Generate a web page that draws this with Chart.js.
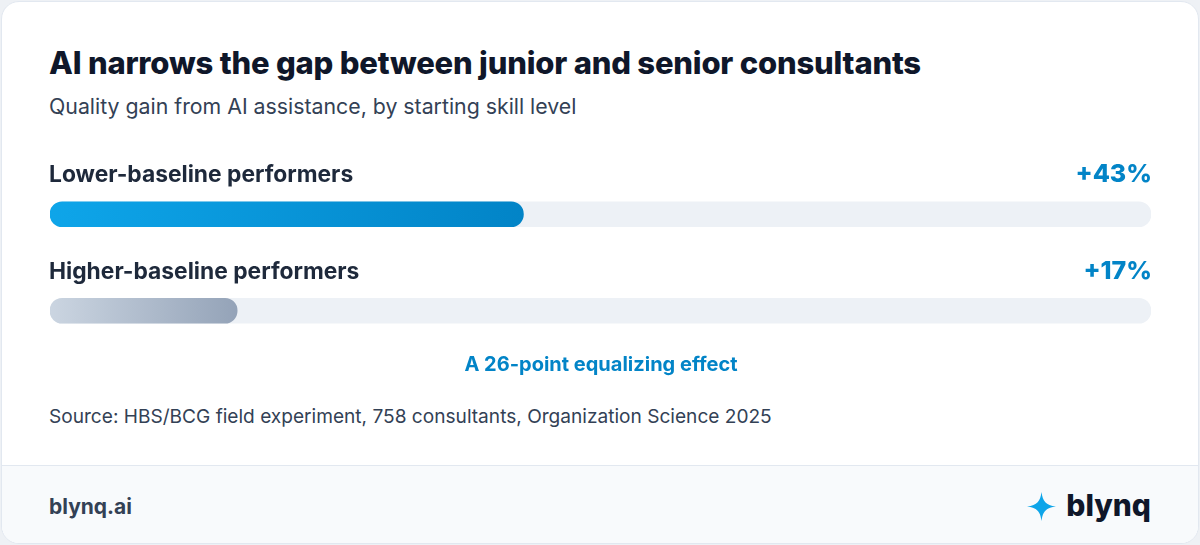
<!DOCTYPE html>
<html>
<head>
<meta charset="utf-8">
<script src="https://cdn.jsdelivr.net/npm/chart.js@4.4.1/dist/chart.umd.min.js"></script>
<style>
  html, body { margin: 0; padding: 0; }
  body {
    width: 1200px; height: 545px; background: #eef1f5;
    font-family: 'Inter', 'Noto Sans', sans-serif; position: relative; overflow: hidden;
  }
  .card {
    position: absolute; left: 1px; top: 1px; width: 1196px; height: 541px;
    background: #fff; border: 1px solid #e2e8f0; border-radius: 18px; overflow: hidden;
  }
  .title {
    position: absolute; left: 47px; top: 44.5px; margin: 0; white-space: nowrap;
    font-size: 31px; line-height: 1; font-weight: 800; color: #0f172a; letter-spacing: -0.2px;
  }
  .sub {
    position: absolute; left: 47px; top: 93.5px; margin: 0; white-space: nowrap;
    font-size: 21.3px; line-height: 1; color: #334155;
  }
  .wrap { position: absolute; left: 46px; top: 149px; width: 1103px; height: 208px; }
  .note {
    position: absolute; left: 0; width: 1198px; top: 352px; text-align: center;
    font-size: 20px; line-height: 1; font-weight: 700; color: #0284c7;
  }
  .src {
    position: absolute; left: 47px; top: 405px; white-space: nowrap;
    font-size: 19.1px; line-height: 1; color: #334155;
  }
  .foot {
    position: absolute; left: 0; right: 0; top: 463px; bottom: 0;
    background: #f8fafc; border-top: 1px solid #e2e8f0;
  }
  .site {
    position: absolute; left: 47px; top: 30px;
    font-size: 21px; line-height: 1; font-weight: 700; color: #334155;
  }
  .brand {
    position: absolute; right: 47px; top: 24px;
    font-size: 30px; line-height: 1; font-weight: 800; color: #0f172a;
  }
  .star { position: absolute; left: 1025px; top: 26px; }
</style>
</head>
<body>
<div class="card">
  <h1 class="title">AI narrows the gap between junior and senior consultants</h1>
  <p class="sub">Quality gain from AI assistance, by starting skill level</p>
  <div class="wrap"><canvas id="grafGap"></canvas></div>
  <div class="note">A 26-point equalizing effect</div>
  <div class="src">Source: HBS/BCG field experiment, 758 consultants, Organization Science 2025</div>
  <div class="foot">
    <div class="site">blynq.ai</div>
    <svg class="star" width="29" height="29" viewBox="0 0 28 28"><path d="M14 0 C15.2 9 18 12.8 28 14 C18 15.2 15.2 19 14 28 C12.8 19 10 15.2 0 14 C10 12.8 12.8 9 14 0 Z" fill="#0ea5e9"/></svg>
    <div class="brand">blynq</div>
  </div>
</div>
<script>
(function () {
    'use strict';

    // ── Dados ──
    const grupos  = ['Lower-baseline performers', 'Higher-baseline performers'];
    const ganhos  = [43, 17];
    const rotulos = ['+43%', '+17%'];
    const trilha  = [100, 100];

    // cores: [início, fim] do gradiente por barra
    const CORES = [['#0ea5e9', '#0284c7'], ['#cbd5e1', '#94a3b8']];
    const TRILHA = '#edf1f6';
    const TEXTO  = '#1e293b';
    const AZUL   = '#0284c7';

    function gradiente(c) {
        const chart = c.chart;
        const area = chart.chartArea;
        if (!area) return CORES[c.dataIndex][1];
        const x1 = chart.scales.x.getPixelForValue(c.raw);
        const g = chart.ctx.createLinearGradient(area.left, 0, x1, 0);
        g.addColorStop(0, CORES[c.dataIndex][0]);
        g.addColorStop(1, CORES[c.dataIndex][1]);
        return g;
    }

    // rótulos acima das barras + valor à direita
    const rotulosPlugin = {
        id: 'rotulos',
        afterDatasetsDraw(chart) {
            const { ctx, chartArea } = chart;
            const meta = chart.getDatasetMeta(1);
            ctx.save();
            ctx.textBaseline = 'alphabetic';
            meta.data.forEach((bar, i) => {
                const y = bar.y - 32;
                ctx.font = "700 22.8px 'Inter', sans-serif";
                ctx.fillStyle = TEXTO;
                ctx.textAlign = 'left';
                ctx.fillText(grupos[i], chartArea.left - 1, y);
                ctx.font = "800 25px 'Inter', sans-serif";
                ctx.fillStyle = AZUL;
                ctx.textAlign = 'right';
                ctx.fillText(rotulos[i], chartArea.right + 1, y);
            });
            ctx.restore();
        }
    };

    new Chart(document.getElementById('grafGap'), {
        type: 'bar',
        data: {
            labels: grupos,
            datasets: [
                {
                    data: trilha,
                    backgroundColor: TRILHA,
                    borderRadius: 13,
                    borderSkipped: false,
                    barThickness: 25,
                    grouped: false,
                    order: 2
                },
                {
                    data: ganhos,
                    backgroundColor: gradiente,
                    borderRadius: 13,
                    borderSkipped: false,
                    barThickness: 25,
                    grouped: false,
                    order: 1
                }
            ]
        },
        options: {
            indexAxis: 'y',
            responsive: true,
            maintainAspectRatio: false,
            animation: false,
            layout: { padding: { top: 15, bottom: 0, left: 2, right: 0 } },
            plugins: { legend: { display: false }, tooltip: { enabled: false } },
            scales: {
                x: { min: 0, max: 100, display: false },
                y: { display: false }
            }
        },
        plugins: [rotulosPlugin]
    });
})();
</script>
</body>
</html>
